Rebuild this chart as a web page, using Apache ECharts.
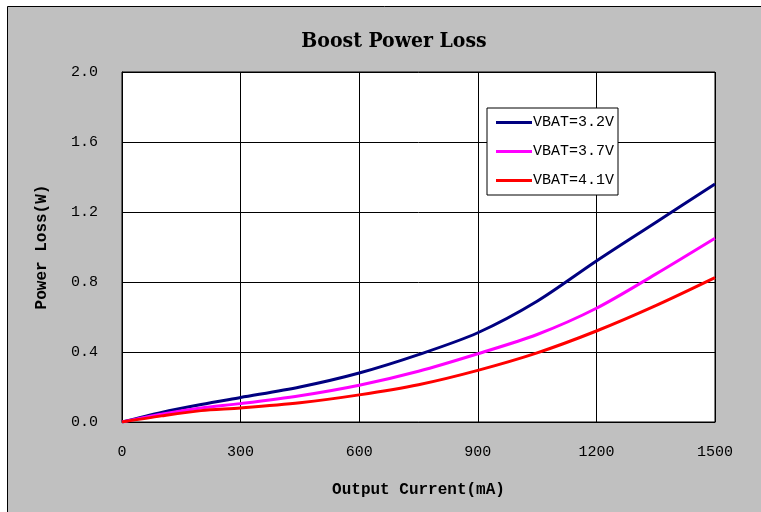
<!DOCTYPE html>
<html><head><meta charset="utf-8">
<script src="https://cdn.jsdelivr.net/npm/echarts@6/dist/echarts.min.js"></script>
<style>html,body{margin:0;padding:0;background:#fff;}#c{width:761px;height:512px;}</style>
</head><body><div id="c"></div>
<script>
const titleText = 'Boost Power Loss';
const xName = 'Output Current(mA)';
const yName = 'Power Loss(W)';
const currents = [0, 100, 200, 300, 450, 600, 750, 900, 1050, 1200, 1350, 1500];
const seriesNames = ['VBAT=3.2V', 'VBAT=3.7V', 'VBAT=4.1V'];
const loss32 = [0, 0.055, 0.10, 0.14, 0.20, 0.28, 0.385, 0.51, 0.69, 0.92, 1.14, 1.36];
const loss37 = [0, 0.045, 0.08, 0.105, 0.15, 0.21, 0.29, 0.39, 0.50, 0.65, 0.845, 1.05];
const loss41 = [0, 0.035, 0.065, 0.08, 0.11, 0.155, 0.213, 0.295, 0.395, 0.52, 0.665, 0.825];
const colors = ['#000080', '#ff00ff', '#ff0000'];

const pair = (ys) => currents.map((x, i) => [x, ys[i]]);
const chart = echarts.init(document.getElementById('c'));
const mono = 'Liberation Mono';
chart.setOption({
  animation: false,
  backgroundColor: '#ffffff',
  graphic: [
    { type: 'rect', z: -10, shape: { x: 7.5, y: 6.5, width: 780, height: 520 },
      style: { fill: '#c0c0c0', stroke: '#000', lineWidth: 1 } },
    { type: 'text', x: 394, y: 42, style: { text: titleText, textAlign: 'center', textVerticalAlign: 'middle',
      font: 'bold 21px "DejaVu Serif Condensed"', fill: '#000' } }
  ],
  grid: { left: 122, right: 46, top: 72, bottom: 90, show: true, backgroundColor: '#fff', borderColor: '#000', borderWidth: 1 },
  legend: {
    orient: 'vertical', left: 487, top: 108, data: seriesNames,
    backgroundColor: '#fff', borderColor: '#000', borderWidth: 1,
    padding: [7, 4, 7, 9], itemGap: 14, itemWidth: 36, itemHeight: 3,
    icon: 'rect',
    textStyle: { fontFamily: mono, fontSize: 15, color: '#000', padding: [0, 0, 0, -4] }
  },
  xAxis: {
    type: 'value', min: 0, max: 1500, interval: 300,
    name: xName, nameLocation: 'middle', nameGap: 60,
    nameTextStyle: { fontFamily: mono, fontWeight: 'bold', fontSize: 16, color: '#000' },
    axisLine: { show: true, lineStyle: { color: '#000', width: 1 } },
    axisTick: { show: false },
    axisLabel: { fontFamily: mono, fontSize: 15, color: '#000', margin: 23, formatter: v => String(v) },
    splitLine: { show: true, lineStyle: { color: '#000', width: 1 } }
  },
  yAxis: {
    type: 'value', min: 0, max: 2, interval: 0.4,
    name: yName, nameLocation: 'middle', nameGap: 72, nameRotate: 90,
    nameTextStyle: { fontFamily: mono, fontWeight: 'bold', fontSize: 16, color: '#000' },
    axisLine: { show: true, lineStyle: { color: '#000', width: 1 } },
    axisTick: { show: false },
    axisLabel: { fontFamily: mono, fontSize: 15, color: '#000', margin: 24, formatter: v => v.toFixed(1) },
    splitLine: { show: true, lineStyle: { color: '#000', width: 1 } }
  },
  series: [loss32, loss37, loss41].map((ys, i) => ({
    name: seriesNames[i], type: 'line', data: pair(ys), smooth: 0.3,
    showSymbol: false, symbol: 'none', color: colors[i],
    lineStyle: { width: 3, color: colors[i] }
  }))
});
</script></body></html>
